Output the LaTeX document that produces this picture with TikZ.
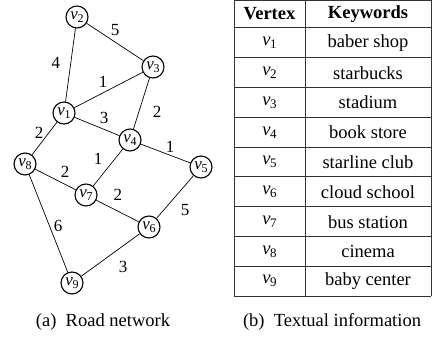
\documentclass[tikz,border=0pt]{standalone}
\usepackage{fontspec}
\setmainfont{Liberation Serif}
\newcommand{\gv}[1]{\textit{v}\kern-0.5pt\raisebox{-0.3ex}{\fontsize{12}{12}\selectfont #1}}
\newcommand{\tv}[1]{\textit{v}\kern-0.5pt\raisebox{-0.35ex}{\fontsize{13}{13}\selectfont #1}}
\begin{document}
\begin{tikzpicture}[x=1pt,y=-1pt,
  vert/.style={circle,draw,line width=1.1pt,minimum size=22pt,inner sep=0pt,font=\fontsize{17}{17}\selectfont},
  wt/.style={inner sep=0pt,font=\fontsize{17}{17}\selectfont},
  edge/.style={line width=0.7pt},
  cell/.style={inner sep=0pt,font=\fontsize{18.5}{20}\selectfont},
  captxt/.style={inner sep=0pt,font=\fontsize{18.5}{20}\selectfont},
  grid/.style={line width=1pt,draw=black!80}]
\useasboundingbox (0,0) rectangle (432,339);
% vertices
\node[vert] (v1) at (64,113) {\gv{1}};
\node[vert] (v2) at (77,17) {\gv{2}};
\node[vert] (v3) at (153,67) {\gv{3}};
\node[vert] (v4) at (130,140) {\gv{4}};
\node[vert] (v5) at (201,167) {\gv{5}};
\node[vert] (v6) at (149,227) {\gv{6}};
\node[vert] (v7) at (86,195) {\gv{7}};
\node[vert] (v8) at (25,164) {\gv{8}};
\node[vert] (v9) at (72,283) {\gv{9}};
% edges
\draw[edge] (v2) -- (v3);
\draw[edge] (v2) -- (v1);
\draw[edge] (v1) -- (v3);
\draw[edge] (v3) -- (v4);
\draw[edge] (v1) -- (v4);
\draw[edge] (v1) -- (v8);
\draw[edge] (v4) -- (v7);
\draw[edge] (v4) -- (v5);
\draw[edge] (v8) -- (v7);
\draw[edge] (v7) -- (v6);
\draw[edge] (v5) -- (v6);
\draw[edge] (v8) -- (v9);
\draw[edge] (v9) -- (v6);
% weights
\node[wt] (w23) at (115,30) {5};
\node[wt] (w12) at (56,63) {4};
\node[wt] (w13) at (103,82) {1};
\node[wt] (w34) at (157,112) {2};
\node[wt] (w14) at (104,118) {3};
\node[wt] (w18) at (39,133) {2};
\node[wt] (w47) at (98,159) {1};
\node[wt] (w45) at (170,147) {1};
\node[wt] (w87) at (65,172) {2};
\node[wt] (w76) at (118,195) {2};
\node[wt] (w56) at (185,210) {5};
\node[wt] (w89) at (58,226) {6};
\node[wt] (w96) at (123,267) {3};
% table
\draw[grid] (234,0) -- (234,296);
\draw[grid] (305,0) -- (305,296);
\draw[grid] (431,0) -- (431,296);
\draw[grid] (234,0.5) -- (431,0.5);
\foreach \r in {0,...,9} \draw[grid] (234,{28+29.8*\r}) -- (431,{28+29.8*\r});
\node[cell] (hv) at (269.5,14) {\textbf{Vertex}};
\node[cell] (hk) at (368,14) {\textbf{Keywords}};
\foreach \k [count=\r] in {baber shop,starbucks,stadium,book store,starline club,cloud school,bus station,cinema,baby center}{
  \node[cell] (c\r) at (269.5,{28+29.8*\r-14.9}) {\tv{\r}};
  \node[cell] (k\r) at (368,{28+29.8*\r-14.9}) {\k};
}
% captions
\node[captxt] (capa) at (103,322) {(a)\enspace Road network};
\node[captxt] (capb) at (332,322) {(b)\enspace Textual information};
\end{tikzpicture}
\end{document}
